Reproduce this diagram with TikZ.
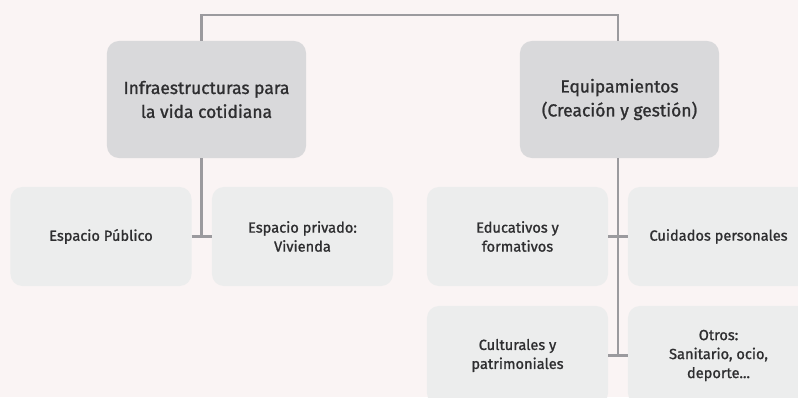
\documentclass[tikz,border=0pt]{standalone}
\usepackage{fontspec}
\setmainfont{Fira Sans}[FakeBold=1.2]
\usetikzlibrary{calc}
\definecolor{bgcol}{HTML}{FAF4F4}
\definecolor{topcol}{HTML}{D9D9DB}
\definecolor{subcol}{HTML}{ECEDED}
\definecolor{linecol}{HTML}{9B9A9E}
\definecolor{txtcol}{HTML}{2E2E30}
\tikzset{
    topbox/.style={fill=topcol,rounded corners=0.3cm,minimum width=4.975cm,minimum height=2.925cm,
      outer sep=0pt,align=center,text=txtcol,font=\fontsize{12.4}{17}\selectfont},
    subbox/.style={fill=subcol,rounded corners=0.3cm,minimum width=4.525cm,minimum height=2.475cm,
      outer sep=0pt,align=center,text=txtcol,font=\fontsize{10.4}{13.5}\selectfont},
    link/.style={draw=linecol,line width=2.1pt}
}
\begin{document}
\begin{tikzpicture}[x=0.025cm,y=-0.025cm]
  \fill[bgcol] (0,0) rectangle (798,397);
  \useasboundingbox (0,0) rectangle (798,397);
  \clip (0,0) rectangle (798,397);

  % cajas principales
  \node[topbox] (infra) at (206.5,99.5) {Infraestructuras para\\la vida cotidiana};
  \node[topbox] (equip) at (619.5,99.5) {Equipamientos\\(Creación y gestión)};

  % cajas secundarias
  \node[subbox] (pub)  at (101,236.5)   {Espacio Público};
  \node[subbox] (priv) at (302.5,236.5) {Espacio privado:\\Vivienda};
  \node[subbox] (edu)  at (517.5,236.5) {Educativos y\\formativos};
  \node[subbox] (cui)  at (718.5,236.5) {Cuidados personales};
  \node[subbox] (cul)  at (517.5,355.5) {Culturales y\\patrimoniales};
  \node[subbox] (otr)  at (718.5,355.5) {Otros:\\Sanitario, ocio,\\deporte...};

  \coordinate (jL) at ($(pub.east)!0.5!(priv.west)$);
  \coordinate (jR) at ($(edu.east)!0.5!(cui.west)$);
  \coordinate (top) at (0,15);

  % conectores
  \draw[link] (jL |- infra.north) -- (jL |- top) -| (jR |- equip.north);
  \draw[link] (jL |- infra.south) -- (jL);
  \draw[link] (pub.east) -- (priv.west);
  \draw[link] (jR |- equip.south) -- ($(cul.east)!0.5!(otr.west)$);
  \draw[link] (edu.east) -- (cui.west);
  \draw[link] (cul.east) -- (otr.west);
\end{tikzpicture}
\end{document}
